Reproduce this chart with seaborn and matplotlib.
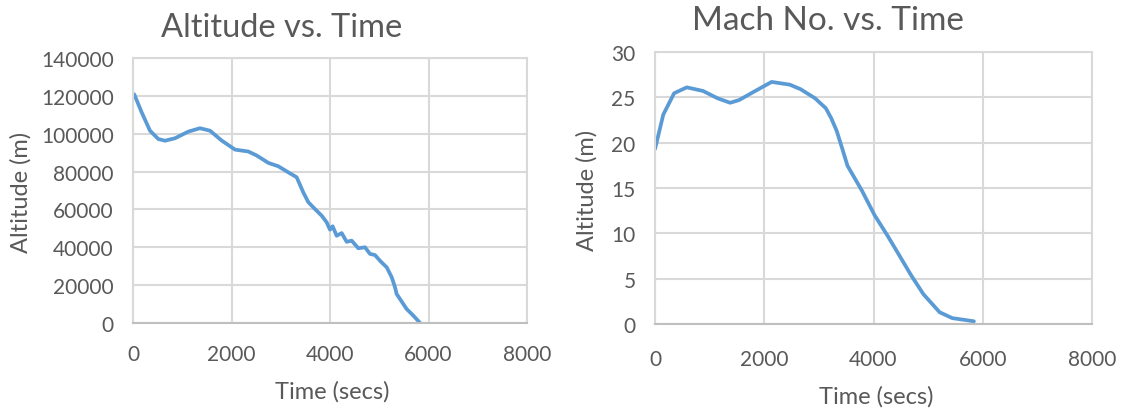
import matplotlib
matplotlib.use("Agg")
import matplotlib.pyplot as plt
import seaborn as sns
import pandas as pd

# ---- data ----
alt_time = [0, 27, 176, 345, 514, 650, 853, 1123, 1360, 1563, 1800, 2071, 2341, 2511,
            2747, 2950, 3153, 3323, 3458, 3560, 3695, 3831, 3932, 4000, 4054, 4135,
            4237, 4339, 4440, 4575, 4711, 4812, 4914, 5015, 5152, 5254, 5320, 5354,
            5556, 5692, 5830]
altitude = [121000, 120700, 111300, 101600, 97200, 96300, 97600, 101100, 102900, 101600,
            96400, 91600, 90600, 88500, 84600, 82800, 79600, 77000, 69000, 63800, 60200,
            56700, 53200, 49300, 51100, 46100, 47500, 42900, 43500, 39500, 40000, 36500,
            35900, 32900, 29400, 24100, 18900, 15300, 7400, 3900, 0]

mach_time = [0, 152, 350, 582, 880, 1144, 1375, 1540, 1805, 2135, 2466, 2664, 2929, 3127,
             3226, 3326, 3425, 3524, 3789, 4020, 4251, 4450, 4681, 4912, 5210, 5441, 5838]
mach = [19.3, 23.1, 25.45, 26.1, 25.7, 24.9, 24.4, 24.7, 25.6, 26.7, 26.4, 25.9, 24.9,
        23.8, 22.7, 21.3, 19.4, 17.45, 14.7, 12.0, 9.8, 7.8, 5.45, 3.3, 1.3, 0.65, 0.3]

x_ticks = [0, 2000, 4000, 6000, 8000]
alt_ticks = [0, 20000, 40000, 60000, 80000, 100000, 120000, 140000]
mach_ticks = [0, 5, 10, 15, 20, 25, 30]

titles = ["Altitude vs. Time", "Mach No. vs. Time"]
xlabel = "Time (secs)"
ylabel = "Altitude (m)"

# ---- style ----
sns.set_style("white")
plt.rcParams['font.family'] = ['Lato', 'DejaVu Sans']

TXT = "#595959"
GRID = "#D9D9D9"
LINE = "#5B9BD5"

fig = plt.figure(figsize=(11.24, 4.10), dpi=100)
W, H = 1124, 410

def px_axes(x0, y0, x1, y1):
    return fig.add_axes([x0 / W, 1 - y1 / H, (x1 - x0) / W, (y1 - y0) / H])

ax1 = px_axes(133, 59, 527, 324)
ax2 = px_axes(655, 53, 1092, 325)

df1 = pd.DataFrame({"t": alt_time, "v": altitude})
df2 = pd.DataFrame({"t": mach_time, "v": mach})

for ax, df, yt, xpad in [(ax1, df1, alt_ticks, 15), (ax2, df2, mach_ticks, 18)]:
    sns.lineplot(data=df, x="t", y="v", ax=ax, color=LINE, linewidth=2.7,
                 estimator=None, sort=False, solid_capstyle="round",
                 solid_joinstyle="round")
    ax.set_xlim(x_ticks[0], x_ticks[-1])
    ax.set_ylim(yt[0], yt[-1])
    ax.set_xticks(x_ticks)
    ax.set_yticks(yt)
    ax.set_xticklabels([str(v) for v in x_ticks])
    ax.set_yticklabels([str(v) for v in yt])
    ax.grid(True, color=GRID, linewidth=1.5)
    ax.set_axisbelow(True)
    for s in ax.spines.values():
        s.set_color(GRID)
        s.set_linewidth(1.5)
    ax.spines["bottom"].set_color("#BFBFBF")
    ax.tick_params(axis="both", length=0, labelsize=15, colors=TXT)
    ax.tick_params(axis="y", pad=14)
    ax.tick_params(axis="x", pad=xpad)
    ax.set_xlabel("")
    ax.set_ylabel("")

# axis labels and titles placed at reference pixel positions
def ftext(x, y, s, **kw):
    fig.text(x / W, 1 - y / H, s, ha="center", va="center", color=TXT, **kw)

ftext(282, 28, titles[0], fontsize=23.5)
ftext(828, 21, titles[1], fontsize=24)
ftext(332, 392, xlabel, fontsize=17)
ftext(876, 397, xlabel, fontsize=17)
ftext(21, 192, ylabel, fontsize=17, rotation=90)
ftext(587, 190, ylabel, fontsize=17, rotation=90)

fig.savefig("out.png", dpi=100)
